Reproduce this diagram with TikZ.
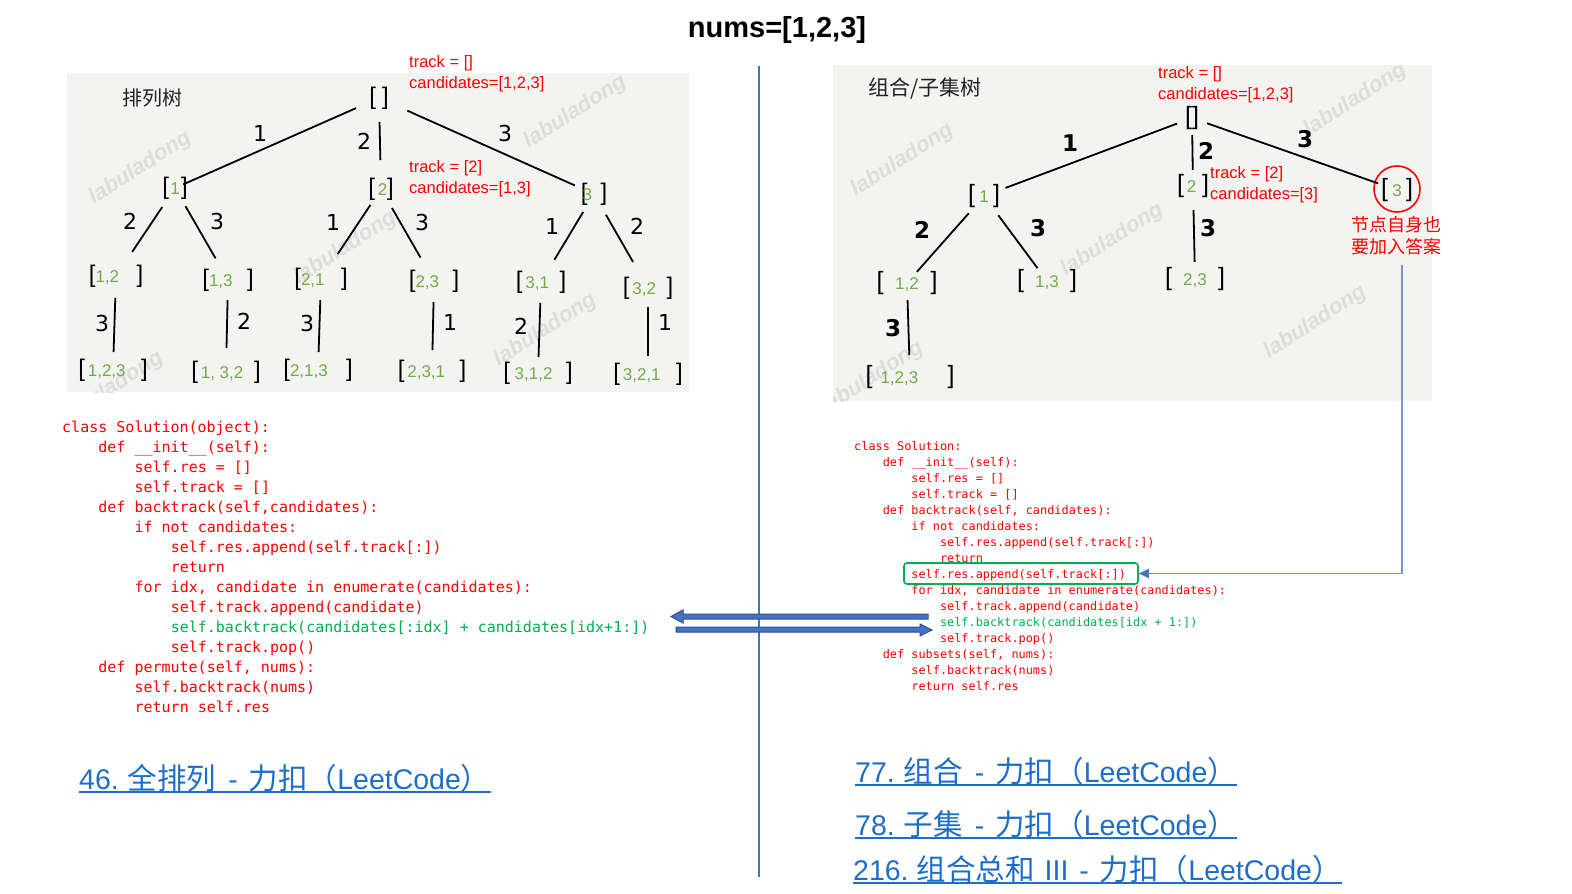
\documentclass[tikz,border=0pt]{standalone}
\usepackage{fontspec}
\setmainfont{Liberation Sans}
\newfontfamily\cjk{Noto Sans CJK SC}
\newfontfamily\cmono{DejaVu Sans Mono}
\newfontfamily\dvs{DejaVu Sans}
\usetikzlibrary{arrows.meta,calc}
\definecolor{tgreen}{HTML}{70AD47}
\definecolor{cgreen}{HTML}{00B050}
\definecolor{cred}{HTML}{FF0000}
\definecolor{bgc}{HTML}{F3F3F1}
\definecolor{divblue}{HTML}{4472C4}
\definecolor{connblue}{HTML}{7196D8}
\definecolor{lblue}{HTML}{1E6EC8}
\definecolor{arrfill}{HTML}{4472C4}
\definecolor{arrdraw}{HTML}{2F528F}
\definecolor{wm}{HTML}{DDDDDB}
\definecolor{ttl}{HTML}{222222}
\newcommand\gf{\fontsize{17}{17}\selectfont\color{tgreen}}
\newcommand\bk[3][l]{{[}\makebox[#2pt][#1]{\gf #3}{]}}
\newcommand\ed[4]{\draw[edgeln, shorten <=#3pt, shorten >=#4pt] (#1.center) -- (#2.center);}
\newcommand\lt[1]{{\rmfamily\fontsize{28.5}{28.5}\selectfont #1}}
\newcommand\gp[1]{\hspace{#1pt}}
\frenchspacing
\begin{document}
\begin{tikzpicture}[x=1pt,y=-1pt,
  tb/.style={inner sep=0, font=\fontsize{24}{24}\selectfont},
  tbR/.style={inner sep=0, font=\fontsize{25}{25}\selectfont},
  el/.style={inner sep=0, font=\dvs\fontsize{22}{22}\selectfont},
  elR/.style={inner sep=0, font=\dvs\bfseries\fontsize{23}{23}\selectfont},
  edgeln/.style={line width=1.8pt},
  ann/.style={inner sep=0, anchor=west, text=cred, font=\fontsize{16.5}{16.5}\selectfont},
  codeL/.style={anchor=base west, inner sep=0, text=cred, font=\cmono\fontsize{15}{15}\selectfont},
  codeR/.style={anchor=base west, inner sep=0, text=cred, font=\cmono\fontsize{11.88}{11.88}\selectfont},
  link/.style={anchor=base west, inner sep=0, text=lblue, font=\cjk\fontsize{29.5}{29.5}\selectfont},
  wmark/.style={text=wm, rotate=33, inner sep=0, font=\bfseries\itshape\fontsize{22}{22}\selectfont},
  cjkt/.style={inner sep=0, text=ttl, font=\cjk\fontsize{20}{20}\selectfont}]
\useasboundingbox (0,0) rectangle (1572,894);
\fill[white] (0,0) rectangle (1572,894);

% title
\node[inner sep=0, font=\bfseries\fontsize{29}{29}\selectfont] (title) at (777,30) {nums=[1,2,3]};

% backgrounds
\fill[bgc] (67,73) rectangle (689,392);
\fill[bgc] (833,65) rectangle (1432,401);

% watermarks
\begin{scope}
\clip (67,73) rectangle (689,392);
\node[wmark] (w1) at (140,168) {labuladong};
\node[wmark] (w2) at (575,112) {labuladong};
\node[wmark] (w3) at (345,248) {labuladong};
\node[wmark] (w4) at (545,330) {labuladong};
\node[wmark] (w5) at (112,388) {labuladong};
\end{scope}
\begin{scope}
\clip (833,65) rectangle (1432,401);
\node[wmark] (w6) at (902,160) {labuladong};
\node[wmark] (w7) at (1355,100) {labuladong};
\node[wmark] (w8) at (1112,240) {labuladong};
\node[wmark] (w9) at (1315,322) {labuladong};
\node[wmark] (w10) at (872,378) {labuladong};
\end{scope}

% divider
\coordinate (dtop) at (759,66);
\coordinate (dbot) at (759,877);
\draw[divblue, line width=1.2pt] (dtop) -- (dbot);

% ===== left tree =====
\node[cjkt] (ltitle) at (152,98) {排列树};
\node[ann] (a1) at (409,63) {track = []};
\node[ann] (a2) at (409,84) {candidates=[1,2,3]};
\node[ann] (a3) at (409,168) {track = [2]};
\node[ann] (a4) at (409,189) {candidates=[1,3]};

\node[tb] (L) at (379,98) {\bk{6}{}};
\node[tb] (n1) at (175,188) {\bk[c]{12}{1}};
\node[tb] (n2) at (381,189) {\bk{12}{\,2}};
\node[tb] (n3) at (594,194) {\bk{13}{\hspace{-5pt}3}};
\node[tb] (n12) at (116,276) {\bk{41}{1,2}};
\node[tb] (n13) at (228,280) {\bk{38}{1,3}};
\node[tb] (n21) at (321,279) {\bk{40}{2,1}};
\node[tb] (n23) at (434,281) {\bk{37}{2,3}};
\node[tb] (n31) at (541,282) {\bk{37}{\,3,1}};
\node[tb] (n32) at (648,288) {\bk{37}{\,3,2}};
\node[tb] (l123) at (113,370) {\bk{56}{\,1,2,3}};
\node[tb] (l132) at (226,372) {\bk{56}{\,1, 3,2}};
\node[tb] (l213) at (318,370) {\bk{56}{2,1,3}};
\node[tb] (l231) at (432,371) {\bk{55}{\,2,3,1}};
\node[tb] (l312) at (538,373) {\bk{56}{\;3,1,2}};
\node[tb] (l321) at (648,374) {\bk{56}{\,3,2,1}};

\ed{L}{n1}{25}{9}
\ed{L}{n2}{24}{29}
\ed{L}{n3}{31}{21}
\ed{n1}{n12}{23}{29}
\ed{n1}{n13}{21}{25}
\ed{n2}{n21}{19}{30}
\ed{n2}{n23}{22}{27}
\ed{n3}{n31}{21}{26}
\ed{n3}{n32}{24}{30}
\ed{n12}{l123}{22}{18}
\ed{n13}{l132}{20}{24}
\ed{n21}{l213}{21}{18}
\ed{n23}{l231}{21}{21}
\ed{n31}{l312}{21}{16}
\ed{n32}{l321}{19}{18}

\node[el] (e1) at (260,133) {1};
\node[el] (e2) at (364,141) {2};
\node[el] (e3) at (505,133) {3};
\node[el] (e4) at (130,221) {2};
\node[el] (e5) at (217,221) {3};
\node[el] (e6) at (333,222) {1};
\node[el] (e7) at (422,222) {3};
\node[el] (e8) at (552,226) {1};
\node[el] (e9) at (637,226) {2};
\node[el] (e10) at (102,323) {3};
\node[el] (e11) at (244,321) {2};
\node[el] (e12) at (307,323) {3};
\node[el] (e13) at (450,322) {1};
\node[el] (e14) at (521,326) {2};
\node[el] (e15) at (665,322) {1};

% ===== right tree =====
\node[cjkt, font=\cjk\fontsize{21}{21}\selectfont] (rtitle) at (925,89) {组合/子集树};
\node[ann] (b1) at (1158,74) {track = []};
\node[ann] (b2) at (1158,95) {candidates=[1,2,3]};
\node[ann] (b3) at (1210,174) {track = [2]};
\node[ann] (b4) at (1210,195) {candidates=[3]};
\node[inner sep=0, text=cred, font=\cjk\fontsize{18}{18}\selectfont] (b5) at (1396,225) {节点自身也};
\node[inner sep=0, text=cred, font=\cjk\fontsize{18}{18}\selectfont] (b6) at (1396,247) {要加入答案};

\node[tbR] (R) at (1192,118) {\bk{0}{}};
\node[tbR] (r1) at (984,196) {\bk[c]{18}{1}};
\node[tbR] (r2) at (1193,186) {\bk{18}{\,2}};
\node[tbR] (r3) at (1397,190) {\bk[c]{18}{3}};
\node[circle, draw=cred, line width=1.6pt, minimum size=46pt, inner sep=0] (c3) at (1397,189) {};
\node[tbR] (r12) at (907,283) {\bk[c]{47}{1,2}};
\node[tbR] (r13) at (1047,281) {\bk[c]{46}{1,3}};
\node[tbR] (r23) at (1195,279) {\bk[c]{46}{2,3}};
\node[tbR] (r123) at (910,377) {\bk{75}{\hspace{8pt}1,2,3}};

\ed{R}{r1}{16}{23}
\ed{R}{r2}{17}{16}
\ed{R}{r3}{16}{20}
\ed{r1}{r12}{23}{15}
\ed{r1}{r13}{24}{16}
\ed{r2}{r23}{24}{17}
\ed{r12}{r123}{17}{22}

\node[elR] (f1) at (1070,143) {1};
\node[elR] (f2) at (1206,151) {2};
\node[elR] (f3) at (1305,139) {3};
\node[elR] (f4) at (922,230) {2};
\node[elR] (f5) at (1038,228) {3};
\node[elR] (f6) at (1208,228) {3};
\node[elR] (f7) at (893,328) {3};

% ===== left code =====
\node[codeL] (c1) at (62,432) {class Solution(object):};
\node[codeL] (c2) at (98.2,452) {def \_\_init\_\_(self):};
\node[codeL] (c3) at (134.4,472) {self.res = []};
\node[codeL] (c4) at (134.4,492) {self.track = []};
\node[codeL] (c5) at (98.2,512) {def backtrack(self,candidates):};
\node[codeL] (c6) at (134.4,532) {if not candidates:};
\node[codeL] (c7) at (170.6,552) {self.res.append(self.track[:])};
\node[codeL] (c8) at (170.6,572) {return};
\node[codeL] (c9) at (134.4,592) {for idx, candidate in enumerate(candidates):};
\node[codeL] (c10) at (170.6,612) {self.track.append(candidate)};
\node[codeL, text=cgreen] (c11) at (170.6,632) {self.backtrack(candidates[:idx] + candidates[idx+1:])};
\node[codeL] (c12) at (170.6,652) {self.track.pop()};
\node[codeL] (c13) at (98.2,672) {def permute(self, nums):};
\node[codeL] (c14) at (134.4,692) {self.backtrack(nums)};
\node[codeL] (c15) at (134.4,712) {return self.res};

% ===== right code =====
\node[codeR] (d1) at (854,450) {class Solution:};
\node[codeR] (d2) at (882.6,466) {def \_\_init\_\_(self):};
\node[codeR] (d3) at (911.2,482) {self.res = []};
\node[codeR] (d4) at (911.2,498) {self.track = []};
\node[codeR] (d5) at (882.6,514) {def backtrack(self, candidates):};
\node[codeR] (d6) at (911.2,530) {if not candidates:};
\node[codeR] (d7) at (939.8,546) {self.res.append(self.track[:])};
\node[codeR] (d8) at (939.8,562) {return};
\node[codeR] (d9) at (911.2,578) {self.res.append(self.track[:])};
\node[codeR] (d10) at (911.2,594) {for idx, candidate in enumerate(candidates):};
\node[codeR] (d11) at (939.8,610) {self.track.append(candidate)};
\node[codeR, text=cgreen] (d12) at (939.8,626) {self.backtrack(candidates[idx + 1:])};
\node[codeR] (d13) at (939.8,642) {self.track.pop()};
\node[codeR] (d14) at (882.6,658) {def subsets(self, nums):};
\node[codeR] (d15) at (911.2,674) {self.backtrack(nums)};
\node[codeR] (d16) at (911.2,690) {return self.res};

% green box and annotation connector
\node[draw=cgreen, rounded corners=3pt, line width=1.6pt, minimum width=234pt, minimum height=21pt, inner sep=0] (gbox) at (1021,573.5) {};
\coordinate (annbot) at (1402,265);
\draw[connblue, line width=1.5pt, -{Triangle[length=10pt,width=9pt,color=divblue]}] (annbot) |- (gbox.east);

% middle block arrows
\filldraw[fill=arrfill, draw=arrdraw, line width=1pt]
  (671,616.5) -- (683,610) -- (683,614) -- (928,614) -- (928,619) -- (683,619) -- (683,623) -- cycle;
\filldraw[fill=arrfill, draw=arrdraw, line width=1pt]
  (932,630) -- (920,624) -- (920,627) -- (676,627) -- (676,632) -- (920,632) -- (920,636) -- cycle;

% ===== links =====
\node[link] (k46) at (79,789) {\lt{46.}\gp{9}全排列\gp{12}\lt{-}\gp{11}力扣（\lt{LeetCode}）};
\draw[lblue, line width=1.3pt] ([yshift=-3pt]k46.base west) -- ([yshift=-3pt]k46.base east);
\node[link] (k77) at (855,782) {\lt{77.}\gp{9}组合\gp{12}\lt{-}\gp{11}力扣（\lt{LeetCode}）};
\draw[lblue, line width=1.3pt] ([yshift=-3pt]k77.base west) -- ([yshift=-3pt]k77.base east);
\node[link] (k78) at (855,835) {\lt{78.}\gp{9}子集\gp{12}\lt{-}\gp{11}力扣（\lt{LeetCode}）};
\draw[lblue, line width=1.3pt] ([yshift=-3pt]k78.base west) -- ([yshift=-3pt]k78.base east);
\node[link] (k216) at (853,880) {\lt{216.}\gp{8}组合总和\gp{10}\lt{III}\gp{11}\lt{-}\gp{11}力扣（\lt{LeetCode}）};
\draw[lblue, line width=1.3pt] ([yshift=-3pt]k216.base west) -- ([yshift=-3pt]k216.base east);
\end{tikzpicture}
\end{document}
